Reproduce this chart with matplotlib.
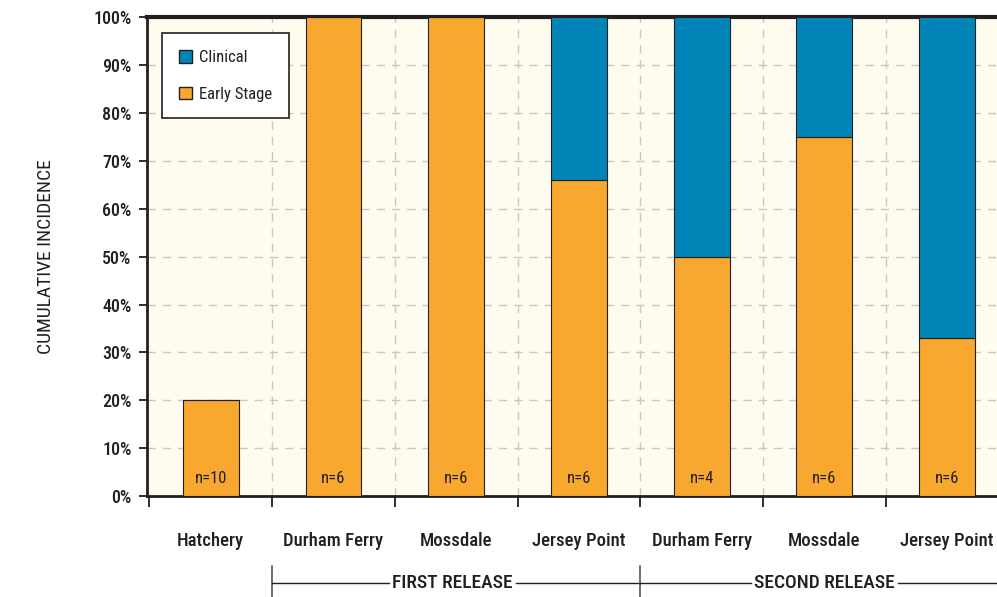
import numpy as np
import matplotlib.pyplot as plt
from matplotlib import font_manager
from matplotlib.patches import Patch

# fonte condensada parecida com a original
instaladas = {f.name for f in font_manager.fontManager.ttflist}
fonte = "DejaVu Sans"
for nome in ["Roboto Condensed", "Barlow Semi Condensed", "Barlow Condensed", "Archivo Narrow",
             "PT Sans Narrow", "Open Sans Condensed", "Liberation Sans Narrow"]:
    if nome in instaladas:
        fonte = nome
        break
plt.rcParams['font.family'] = [fonte, 'DejaVu Sans']
plt.rcParams['font.weight'] = 'medium'

locais = ["Hatchery", "Durham Ferry", "Mossdale", "Jersey Point",
          "Durham Ferry", "Mossdale", "Jersey Point"]
early_stage = [20, 100, 100, 66, 50, 75, 33]
clinical = [0, 0, 0, 34, 50, 25, 67]
n_labels = ["n=10", "n=6", "n=6", "n=6", "n=4", "n=6", "n=6"]

cor_early = "#F9A82F"
cor_clinical = "#0085B8"
cor_texto = "#231F20"

fig = plt.figure(figsize=(9.97, 5.97), dpi=100)
ax = fig.add_axes([0.1474, 0.169, 0.853, 0.802])
ax.set_facecolor("#FEFCEE")

x = np.arange(len(locais))
ax.bar(x, early_stage, width=0.455, color=cor_early, edgecolor=cor_texto, linewidth=0.8, zorder=3)
ax.bar(x, clinical, width=0.455, bottom=early_stage, color=cor_clinical, edgecolor=cor_texto,
       linewidth=0.8, zorder=3)

for i, txt in enumerate(n_labels):
    ax.text(x[i], 3.6, txt, ha="center", va="center", fontsize=12, fontweight="normal",
            color=cor_texto, zorder=4)

x_dir = 6.41
ax.set_xlim(-0.52, x_dir)
ax.set_ylim(0, 100)
ax.set_yticks(np.arange(0, 101, 10))
ax.set_yticklabels([f"{v}%" for v in range(0, 101, 10)], fontsize=13, color=cor_texto)

# ticks nas fronteiras, labels no centro
ax.set_xticks(np.arange(-0.52, 6.0, 1) + 0.02)
ax.set_xticklabels([])
ax.set_xticks(x, minor=True)
ax.set_xticklabels(locais, minor=True, fontsize=13.5, color=cor_texto)
ax.tick_params(axis="x", which="major", length=8, width=1.3, color=cor_texto)
ax.tick_params(axis="x", which="minor", length=0, pad=26)
ax.tick_params(axis="y", length=6, width=1.3, color=cor_texto, pad=5)

for v in np.arange(10, 100, 10):
    ax.axhline(v, color="#C8C8C8", linestyle=(0, (6, 5)), linewidth=1, zorder=1)
for v in np.arange(0.5, 6.5, 1):
    ax.axvline(v, color="#C8C8C8", linestyle=(0, (6, 5)), linewidth=1, zorder=1)

for lado in ["left", "bottom"]:
    ax.spines[lado].set_linewidth(2)
    ax.spines[lado].set_color(cor_texto)
ax.spines["top"].set_linewidth(3)
ax.spines["top"].set_color(cor_texto)
ax.spines["right"].set_visible(False)

ax.set_ylabel("CUMULATIVE INCIDENCE", fontsize=14, color=cor_texto, labelpad=28)

leg = ax.legend(handles=[Patch(facecolor=cor_clinical, edgecolor=cor_texto, label="Clinical"),
                         Patch(facecolor=cor_early, edgecolor=cor_texto, label="Early Stage")],
                loc="upper left", bbox_to_anchor=(0.018, 0.967), fontsize=12, frameon=True,
                fancybox=False, edgecolor=cor_texto, framealpha=1, handlelength=0.8,
                handleheight=0.8, labelspacing=1.3, borderpad=1.0, handletextpad=0.4,
                borderaxespad=0)
leg.get_frame().set_linewidth(1.2)
for t in leg.get_texts():
    t.set_color(cor_texto)
    t.set_fontweight("normal")

# colchetes das solturas
trans = ax.get_xaxis_transform()
y_linha = -0.181
for ini, fim, meio, meia_largura, nome in [(0.5, 3.5, 1.97, 0.52, "FIRST RELEASE"),
                                            (3.5, x_dir, 5.0, 0.6, "SECOND RELEASE")]:
    ax.plot([ini, ini], [-0.145, -0.215], transform=trans, color="#555555", linewidth=1.2, clip_on=False)
    ax.plot([ini, meio - meia_largura], [y_linha, y_linha], transform=trans, color=cor_texto,
            linewidth=1, clip_on=False)
    ax.plot([meio + meia_largura, fim], [y_linha, y_linha], transform=trans, color=cor_texto,
            linewidth=1, clip_on=False)
    ax.text(meio, y_linha, nome, transform=trans, ha="center", va="center", fontsize=14, color=cor_texto)

plt.savefig("out.png", dpi=100)
